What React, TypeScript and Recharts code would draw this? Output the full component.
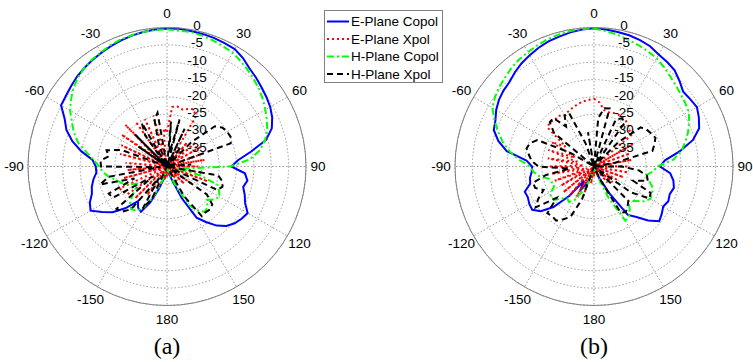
import React from 'react'
import {
  RadarChart,
  Radar,
  PolarGrid,
  PolarAngleAxis,
  PolarRadiusAxis,
} from 'recharts'

// measurement angles in degrees (clockwise from broadside), 5 degree steps
const angles = [
  0, 5, 10, 15, 20, 25, 30, 35, 40, 45, 50, 55, 60, 65, 70, 75, 80, 85,
  90, 95, 100, 105, 110, 115, 120, 125, 130, 135, 140, 145, 150, 155, 160, 165, 170, 175,
  180, 185, 190, 195, 200, 205, 210, 215, 220, 225, 230, 235, 240, 245, 250, 255, 260, 265,
  270, 275, 280, 285, 290, 295, 300, 305, 310, 315, 320, 325, 330, 335, 340, 345, 350, 355,
]

const angleTicks = [0, 30, 60, 90, 120, 150, 180, 210, 240, 270, 300, 330]

// (a) normalized gain, dB
const aECopol = [
  -0.3, -0.2, -0.4, -0.5, -0.6, -0.8, -1.0, -1.9, -3.1, -3.8,
  -4.5, -5.1, -5.7, -6.6, -7.9, -10.5, -15.5, -19.5, -21.5, -17.5,
  -16.5, -17.3, -16.2, -15.2, -13.2, -13.8, -14.6, -15.8, -17.8, -20.5,
  -23, -30, -36, -38, -39, -39.5, -39, -38.5, -37.5, -36,
  -33, -28.5, -25, -25.5, -27, -23, -19.5, -17.2, -14.6, -15.5,
  -17, -17.6, -18.5, -19.6, -19.5, -18.5, -15, -11.8, -9.2, -7.5,
  -4.8, -4.5, -4.0, -3.4, -3.0, -2.6, -2.2, -1.8, -1.4, -1.0, -0.7, -0.4,
]
const aEXpol = [
  -30, -22.8, -22.5, -23, -22.4, -21.8, -23.5, -40, -31, -40,
  -29, -38, -28.5, -40, -28.5, -38, -29, -40, -31, -40,
  -29, -38, -27.5, -40, -40, -31, -40, -33, -40, -35,
  -40, -40, -40, -37, -40, -40, -37, -40, -36, -40,
  -35, -40, -34, -30, -40, -27, -38, -26, -25.5, -25,
  -40, -27, -40, -28.5, -40, -28, -40, -26, -38, -25.5,
  -40, -24, -36, -23, -40, -24.3, -38, -25, -40, -24.8, -38, -29,
]
const aHCopol = [
  -0.5, -0.8, -0.7, -1.0, -1.4, -1.8, -2.2, -3.0, -3.8, -4.6,
  -5.4, -6.3, -7.3, -8.3, -9.3, -10.8, -12.8, -16, -21.8, -34,
  -37, -30, -24.5, -23.5, -22.5, -23.5, -25, -23.5, -23, -24.5,
  -27, -33, -37, -38.5, -39, -39.5, -39.5, -39, -38.5, -37,
  -34, -30, -26, -24.5, -24, -25, -27, -29, -30, -28,
  -26, -25, -23, -21.5, -20.5, -18.8, -16.5, -13.5, -11.5, -9.8,
  -7.8, -6.3, -4.8, -3.8, -3.0, -2.4, -2.0, -1.5, -1.1, -0.9, -0.7, -0.6,
]
const aHXpol = [
  -40, -27, -36, -26, -40, -28, -40, -33, -40, -30,
  -22, -20.5, -20, -19.8, -20.5, -40, -40, -33, -40, -40,
  -25, -23.5, -23, -24, -40, -26, -23, -22.5, -22.8, -22.5,
  -30, -40, -40, -40, -40, -40, -40, -40, -40, -40,
  -40, -30, -26, -36, -24, -21.5, -21, -35, -22, -21.5,
  -30, -20, -23, -38, -21, -20.8, -23, -22, -26, -40,
  -40, -30, -40, -27, -40, -29, -25.5, -40, -33, -26, -24.3, -40,
]

// (b) normalized gain, dB
const bECopol = [
  -0.2, -0.4, -0.7, -0.9, -1.3, -1.8, -2.8, -3.3, -3.9, -5.2,
  -6.5, -6.2, -5.8, -6.7, -7.8, -10.5, -15, -19.5, -21, -18,
  -16.8, -16.2, -16.8, -16.4, -17, -16.2, -15.5, -18, -21, -23,
  -31, -36, -38, -39, -39.5, -39.5, -39.5, -39, -38.5, -38,
  -36, -34, -32, -35, -29, -23.5, -20, -18.3, -18.5, -19,
  -18.8, -21, -21.3, -22, -22.2, -20.5, -14.5, -11.5, -9.3, -8.7,
  -7.5, -6.6, -6.0, -5.6, -4.6, -3.7, -3.0, -2.3, -1.7, -1.3, -0.8, -0.4,
]
const bEXpol = [
  -20.5, -21.5, -23.5, -23.8, -23.6, -23.5, -23.7, -24, -24.6, -25.5,
  -26, -40, -27, -40, -29, -40, -29, -38, -30, -40,
  -30, -40, -31, -40, -32, -40, -33, -40, -34, -40,
  -38, -40, -40, -40, -38, -40, -37, -40, -35, -40,
  -31, -40, -30, -40, -29, -38, -28.5, -40, -29, -37,
  -28, -38, -27.5, -36, -27, -37, -26.5, -35, -26, -34,
  -26, -30, -22.5, -22, -22.5, -22.2, -23, -22.5, -22, -21.5, -21, -20.8,
]
const bHCopol = [
  -0.3, -0.9, -1.5, -2.2, -2.8, -3.4, -4.0, -5.0, -6.0, -6.8,
  -7.5, -8.0, -8.5, -9.8, -11.2, -12.8, -14.5, -17, -21.8, -23,
  -25, -23.5, -22, -21.5, -21.3, -22.5, -24.5, -26, -24, -22.5,
  -22, -30, -37, -38.5, -39, -39.5, -39.5, -39, -38.5, -37,
  -35, -32, -29, -27.5, -28, -27, -25, -24.7, -26, -27.5,
  -27, -26.5, -24, -22.5, -21.6, -18.5, -15.4, -12.8, -10.6, -8.4,
  -6.2, -5.2, -4.4, -3.8, -3.0, -2.4, -2.0, -1.5, -1.0, -0.7, -0.4, -0.3,
]
const bHXpol = [
  -40, -26, -23, -22.7, -40, -25, -24, -24.5, -40, -30,
  -22.5, -21.5, -21, -20.5, -21.5, -22.6, -34, -40, -32, -27,
  -24.5, -24, -28, -22, -21.6, -27, -40, -26, -25, -24,
  -24.7, -36, -40, -40, -40, -40, -40, -40, -40, -40,
  -30, -24, -22.5, -21, -21.3, -21, -26, -19.5, -21.5, -24,
  -22, -21.8, -26, -33, -24, -22, -21, -19.9, -20.4, -22,
  -32, -40, -25, -22, -21.8, -26, -23.1, -23, -33, -40, -30, -40,
]

const series = [
  { key: 'eCopol', name: 'E-Plane Copol', color: '#0000ff', dash: undefined },
  { key: 'eXpol', name: 'E-Plane Xpol', color: '#ff0000', dash: '2 3' },
  { key: 'hCopol', name: 'H-Plane Copol', color: '#00ff00', dash: '7 3 2 3' },
  { key: 'hXpol', name: 'H-Plane Xpol', color: '#000000', dash: '6 4' },
]

const font = '"Liberation Sans", Arial, sans-serif'

function buildRows(ec: number[], ex: number[], hc: number[], hx: number[]) {
  return angles.map((a, i) => ({
    angle: a,
    eCopol: ec[i],
    eXpol: ex[i],
    hCopol: hc[i],
    hXpol: hx[i],
  }))
}

const rowsA = buildRows(aECopol, aEXpol, aHCopol, aHXpol)
const rowsB = buildRows(bECopol, bEXpol, bHCopol, bHXpol)

// grid spokes only at the labelled angles (0 deg at the top, clockwise)
const gridAngles = angleTicks.map((a) => 90 - a)

const AngleTick = (props: any) => {
  const v = Number(props.payload.value)
  if (!angleTicks.includes(v)) return <g />
  const label = v > 180 ? v - 360 : v
  return (
    <text
      x={Math.min(props.x, 318)}
      y={props.y}
      textAnchor="middle"
      dominantBaseline="central"
      fontSize={13.5}
      fontFamily={font}
      fill="#000"
    >
      {label}
    </text>
  )
}

const RadiusTick = (props: any) => {
  const v = Number(props.payload.value)
  if (v === -40) return <g />
  return (
    <text
      x={props.x + 30}
      y={props.y - 2}
      textAnchor="middle"
      dominantBaseline="central"
      fontSize={13.5}
      fontFamily={font}
      fill="#000"
    >
      {v}
    </text>
  )
}

function Pattern({ rows, left, width }: { rows: any[]; left: number; width: number }) {
  return (
    <div style={{ position: 'absolute', left, top: 0 }}>
      <RadarChart
        width={width}
        height={334}
        data={rows}
        cx={167}
        cy={166.5}
        outerRadius={139}
        margin={{ top: 0, right: 0, bottom: 0, left: 0 }}
      >
        <PolarGrid
          gridType="circle"
          polarAngles={gridAngles}
          stroke="#9a9a9a"
          strokeDasharray="1.5 2"
        />
        <PolarAngleAxis
          dataKey="angle"
          type="category"
          tickSize={14}
          tickLine={false}
          axisLineType="circle"
          axisLine={{ stroke: '#808080' }}
          tick={AngleTick}
        />
        <PolarRadiusAxis
          type="number"
          angle={90}
          domain={[-40, 0]}
          tickCount={9}
          axisLine={false}
          tick={RadiusTick}
        />
        {series.map((s) => (
          <Radar
            key={s.key}
            dataKey={s.key}
            name={s.name}
            stroke={s.color}
            strokeWidth={2}
            strokeDasharray={s.dash}
            fill="none"
            fillOpacity={0}
            dot={false}
            isAnimationActive={false}
          />
        ))}
      </RadarChart>
    </div>
  )
}

function Legend() {
  return (
    <svg
      width={121}
      height={75}
      style={{ position: 'absolute', left: 323, top: 9 }}
    >
      <rect x={1.5} y={1.5} width={118} height={72} fill="#fff" stroke="#808080" />
      {series.map((s, i) => {
        const y = 12.5 + i * 17.5
        return (
          <g key={s.key}>
            <line
              x1={4}
              x2={26}
              y1={y}
              y2={y}
              stroke={s.color}
              strokeWidth={2}
              strokeDasharray={s.dash}
            />
            <text
              x={28}
              y={y}
              dominantBaseline="central"
              fontSize={13.5}
              fontFamily={font}
              fill="#000"
            >
              {s.name}
            </text>
          </g>
        )
      })}
    </svg>
  )
}

export default function App() {
  const caption = {
    position: 'absolute' as const,
    top: 331,
    width: 60,
    textAlign: 'center' as const,
    fontFamily: '"Liberation Serif", "Times New Roman", serif',
    fontSize: 24,
    lineHeight: '30px',
  }
  return (
    <div
      style={{
        position: 'absolute',
        left: 0,
        top: 0,
        width: 753,
        height: 362,
        background: '#fff',
        overflow: 'hidden',
      }}
    >
      <Pattern rows={rowsA} left={0} width={334} />
      <Pattern rows={rowsB} left={427} width={326} />
      <Legend />
      <div style={{ ...caption, left: 137 }}>(a)</div>
      <div style={{ ...caption, left: 564 }}>(b)</div>
    </div>
  )
}
